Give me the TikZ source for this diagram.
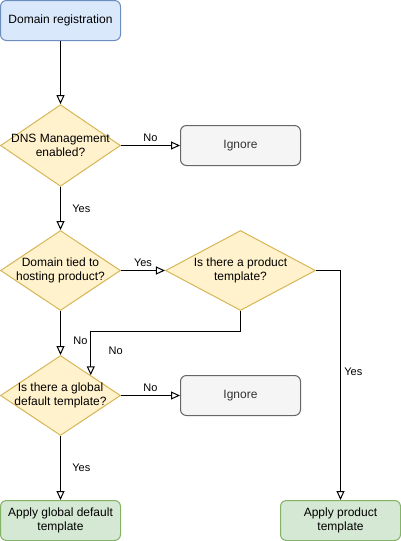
\documentclass[tikz,border=0pt]{standalone}
\usepackage{fontspec}
\setmainfont{Liberation Sans}
\usetikzlibrary{shapes.geometric, arrows.meta, calc}
\definecolor{regfill}{HTML}{dae8fc}
\definecolor{regline}{HTML}{6c8ebf}
\definecolor{askfill}{HTML}{fff2cc}
\definecolor{askline}{HTML}{d6b656}
\definecolor{skipfill}{HTML}{f5f5f5}
\definecolor{skipline}{HTML}{666666}
\definecolor{skiptext}{HTML}{333333}
\definecolor{okfill}{HTML}{d5e8d4}
\definecolor{okline}{HTML}{82b366}

\begin{document}
\begin{tikzpicture}[x=1pt, y=-1pt, font=\fontsize{12}{14.5}\selectfont, line width=1pt,
  box/.style={rectangle, rounded corners=6pt, minimum width=120pt, minimum height=40pt, align=center, inner sep=2pt},
  skipbox/.style={box, draw=skipline, fill=skipfill, text=skiptext},
  applybox/.style={box, draw=okline, fill=okfill},
  decision/.style={diamond, draw=askline, fill=askfill, minimum width=120pt, minimum height=80pt, inner sep=-10pt, align=center},
  flow/.style={-{Triangle[open, length=9pt, width=8pt]}},
  tag/.style={font=\fontsize{11}{13}\selectfont}]
  \useasboundingbox (0,0) rectangle (401,541);

  \node[box, draw=regline, fill=regfill] (reg) at (60.5,20.5) {Domain registration};
  \node[decision] (dns) at (60.5,145.5) {DNS Management\\enabled?};
  \node[skipbox] (skipdns) at (240.5,145.5) {Ignore};
  \node[decision] (tied) at (60.5,270.5) {Domain tied to\\hosting product?};
  \node[decision, minimum width=150pt] (prod) at (240.5,270.5) {Is there a product\\template?};
  \node[decision] (glob) at (60.5,395.5) {Is there a global\\default template?};
  \node[skipbox] (skipglob) at (240.5,395.5) {Ignore};
  \node[applybox] (applyglob) at (60.5,520.5) {Apply global default\\template};
  \node[applybox] (applyprod) at (340.5,520.5) {Apply product\\template};

  \draw[flow] (reg) -- (dns);
  \draw[flow] (dns) -- node[tag, above]{No} (skipdns);
  \draw[flow] (dns) -- node[tag, right=8pt]{Yes} (tied);
  \draw[flow] (tied) -- node[tag, above]{Yes} (prod);
  \draw[flow] (prod.east) -| node[tag, pos=0.72, right]{Yes} (applyprod.north);
  \draw[flow] (prod.south) -- ++(0,20) -| node[tag, pos=0.72, right=14pt]{No} ($(glob.north)!0.5!(glob.east)$);
  \draw[flow] (tied) -- node[tag, pos=0.67, right=9pt]{No} (glob);
  \draw[flow] (glob) -- node[tag, above]{No} (skipglob);
  \draw[flow] (glob) -- node[tag, right=8pt]{Yes} (applyglob);
\end{tikzpicture}
\end{document}
